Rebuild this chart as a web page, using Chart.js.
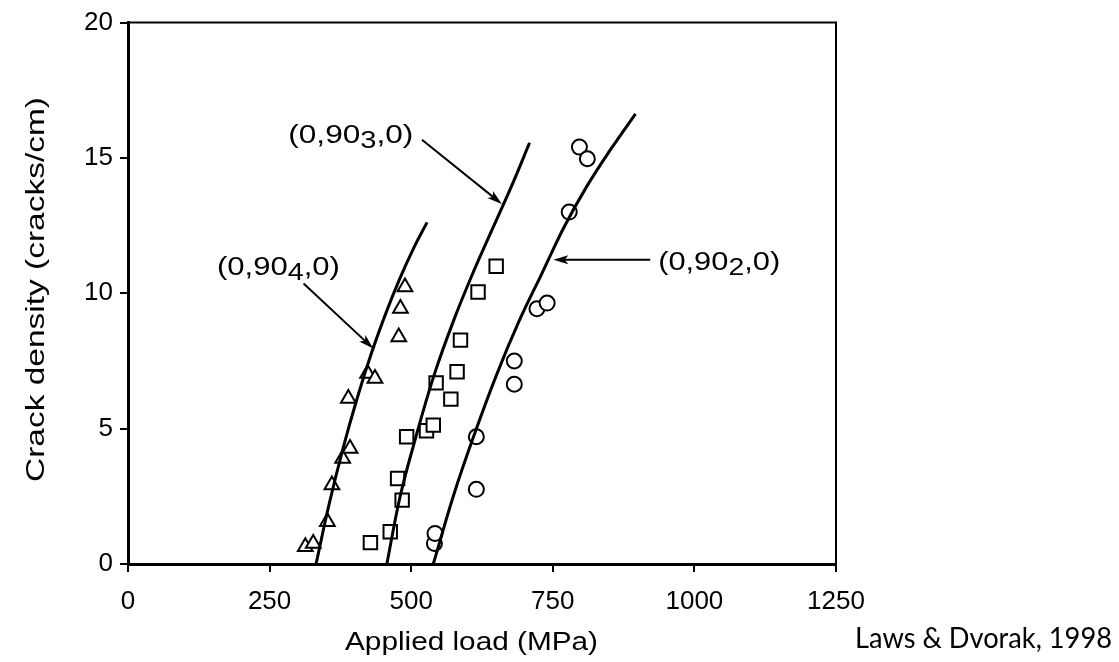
<!DOCTYPE html>
<html>
<head>
<meta charset="utf-8">
<script src="https://cdn.jsdelivr.net/npm/chart.js@4/dist/chart.umd.min.js"></script>
<style>
  html, body { margin: 0; padding: 0; background: #fff; }
  #wrap { width: 1119px; height: 662px; }
</style>
</head>
<body>
<div id="wrap"><canvas id="crackChart"></canvas></div>
<script>
// tick labels
const loadTicks = [0, 250, 500, 750, 1000, 1250];
const densityTicks = [0, 5, 10, 15, 20];

// measured points, (0,90_4,0) triangles
const triLoad = [313, 327, 352, 360, 379, 392, 389, 423, 436, 478, 481, 489];
const triDensity = [0.64, 0.76, 1.56, 2.92, 3.9, 4.27, 6.11, 7.04, 6.85, 8.39, 9.44, 10.23];

// (0,90_3,0) squares
const sqLoad = [428, 463, 484, 476, 492, 527, 539, 544, 570, 581, 587, 618, 650];
const sqDensity = [0.79, 1.19, 2.36, 3.16, 4.7, 4.92, 5.13, 6.69, 6.09, 7.1, 8.27, 10.05, 11.0];

// (0,90_2,0) circles
const circLoad = [541, 542, 615, 615, 682, 682, 722, 740, 779, 797, 811];
const circDensity = [0.76, 1.13, 2.76, 4.7, 6.64, 7.5, 9.43, 9.64, 13.0, 15.4, 14.97];

// predicted curves
const fit4Load = [332, 355, 380, 405, 430, 455, 480, 505, 528];
const fit4Density = [0, 2.2, 4.3, 6.15, 7.8, 9.25, 10.55, 11.7, 12.62];
const fit3Load = [457, 480, 505, 540, 575, 610, 645, 680, 709];
const fit3Density = [0, 2.45, 4.45, 6.95, 9.0, 10.8, 12.45, 14.1, 15.56];
const fit2Load = [539, 575, 610, 650, 690, 730, 770, 810, 850, 896];
const fit2Density = [0, 2.55, 4.7, 6.95, 8.95, 10.7, 12.45, 13.95, 15.25, 16.63];

function pts(xs, ys) {
    return xs.map((x, i) => ({ x: x, y: ys[i] }));
}

const notes = [
    { pre: "(0,90", sub: "3", post: ",0)", load: 283, density: 15.54, width: 125,
      from: [519, 15.67], to: [660, 13.3] },
    { pre: "(0,90", sub: "4", post: ",0)", load: 157, density: 10.66, width: 123,
      from: [310, 10.36], to: [433, 7.96] },
    { pre: "(0,90", sub: "2", post: ",0)", load: 936, density: 10.85, width: 122,
      from: [922, 11.24], to: [751, 11.24] }
];

const FONT = '"Liberation Sans", Arial, Helvetica, sans-serif';

function drawArrow(ctx, x1, y1, x2, y2) {
    const a = Math.atan2(y2 - y1, x2 - x1);
    const head = 15, half = 4.5;
    ctx.beginPath();
    ctx.moveTo(x1, y1);
    ctx.lineTo(x2 - head * 0.7 * Math.cos(a), y2 - head * 0.7 * Math.sin(a));
    ctx.stroke();
    ctx.beginPath();
    ctx.moveTo(x2, y2);
    ctx.lineTo(x2 - head * Math.cos(a) + half * Math.sin(a), y2 - head * Math.sin(a) - half * Math.cos(a));
    ctx.lineTo(x2 - head * 0.75 * Math.cos(a), y2 - head * 0.75 * Math.sin(a));
    ctx.lineTo(x2 - head * Math.cos(a) - half * Math.sin(a), y2 - head * Math.sin(a) + half * Math.cos(a));
    ctx.closePath();
    ctx.fill();
}

// stretched text so the widths follow the scanned figure
function wideText(ctx, text, font, x, y, width, angle) {
    ctx.font = font;
    const k = width / ctx.measureText(text).width;
    ctx.save();
    ctx.translate(x, y);
    if (angle) ctx.rotate(angle);
    ctx.scale(k, 1);
    ctx.textAlign = "left";
    ctx.textBaseline = "alphabetic";
    ctx.fillText(text, 0, 0);
    ctx.restore();
}

const extras = {
    id: "extras",
    afterDatasetsDraw(chart) {
        const ctx = chart.ctx;
        const xs = chart.scales.x, ys = chart.scales.y;
        const area = chart.chartArea;
        ctx.save();
        ctx.strokeStyle = "#000";
        ctx.fillStyle = "#000";

        // top and right side of the frame
        ctx.lineWidth = 2;
        ctx.beginPath();
        ctx.moveTo(area.left, area.top);
        ctx.lineTo(area.right, area.top);
        ctx.lineTo(area.right, area.bottom);
        ctx.stroke();

        // arrows
        ctx.lineWidth = 2;
        notes.forEach(n => {
            drawArrow(ctx,
                xs.getPixelForValue(n.from[0]), ys.getPixelForValue(n.from[1]),
                xs.getPixelForValue(n.to[0]), ys.getPixelForValue(n.to[1]));
        });

        // labels with subscripts
        notes.forEach(n => {
            const px = xs.getPixelForValue(n.load);
            const py = ys.getPixelForValue(n.density);
            ctx.font = "25px " + FONT;
            const w1 = ctx.measureText(n.pre).width;
            const w3 = ctx.measureText(n.post).width;
            ctx.font = "23px " + FONT;
            const w2 = ctx.measureText(n.sub).width;
            const k = n.width / (w1 + w2 + w3);
            ctx.save();
            ctx.translate(px, py);
            ctx.scale(k, 1);
            ctx.textAlign = "left";
            ctx.textBaseline = "alphabetic";
            ctx.font = "25px " + FONT;
            ctx.fillText(n.pre, 0, 0);
            ctx.fillText(n.post, w1 + w2, 0);
            ctx.font = "23px " + FONT;
            ctx.fillText(n.sub, w1, 5);
            ctx.restore();
        });

        // axis titles
        const midX = (area.left + area.right) / 2;
        wideText(ctx, "Applied load (MPa)", "26px " + FONT, midX - 137, 650, 253, 0);
        wideText(ctx, "Crack density (cracks/cm)", "26px " + FONT, 44, 482, 385, -Math.PI / 2);

        // source note
        wideText(ctx, "Laws & Dvorak, 1998", '28px Lato, "Open Sans", sans-serif', 855, 648, 257, 0);

        ctx.restore();
    }
};

const markerStyle = {
    showLine: false,
    pointBackgroundColor: "#fff",
    pointBorderColor: "#000",
    pointBorderWidth: 2
};

const curveStyle = {
    showLine: true,
    borderColor: "#000",
    borderWidth: 3,
    pointRadius: 0,
    tension: 0.4,
    fill: false
};

new Chart(document.getElementById("crackChart"), {
    type: "scatter",
    data: {
        datasets: [
            Object.assign({ label: "fit (0,90_4,0)", data: pts(fit4Load, fit4Density) }, curveStyle),
            Object.assign({ label: "fit (0,90_3,0)", data: pts(fit3Load, fit3Density) }, curveStyle),
            Object.assign({ label: "fit (0,90_2,0)", data: pts(fit2Load, fit2Density) }, curveStyle),
            Object.assign({ label: "(0,90_4,0)", data: pts(triLoad, triDensity), pointStyle: "triangle", pointRadius: 8.5 }, markerStyle),
            Object.assign({ label: "(0,90_3,0)", data: pts(sqLoad, sqDensity), pointStyle: "rect", pointRadius: 9.5 }, markerStyle),
            Object.assign({ label: "(0,90_2,0)", data: pts(circLoad, circDensity), pointStyle: "circle", pointRadius: 7.5 }, markerStyle)
        ]
    },
    options: {
        responsive: true,
        maintainAspectRatio: false,
        animation: false,
        layout: { padding: { left: 0, right: 283, top: 22, bottom: 0 } },
        plugins: {
            legend: { display: false },
            tooltip: { enabled: false }
        },
        scales: {
            x: {
                type: "linear",
                min: 0,
                max: 1250,
                afterBuildTicks: s => { s.ticks = loadTicks.map(v => ({ value: v })); },
                afterFit: s => { s.height = 98; },
                grid: { drawOnChartArea: false, color: "#000", tickColor: "#000", tickLength: 8, lineWidth: 2 },
                border: { display: true, color: "#000", width: 3 },
                ticks: { color: "#000", font: { family: FONT, size: 26 }, padding: 14, maxRotation: 0,
                         callback: v => String(v) },
                title: { display: false }
            },
            y: {
                type: "linear",
                min: 0,
                max: 20,
                afterBuildTicks: s => { s.ticks = densityTicks.map(v => ({ value: v })); },
                afterFit: s => { s.width = 128; },
                grid: { drawOnChartArea: false, color: "#000", tickColor: "#000", tickLength: 8, lineWidth: 2 },
                border: { display: true, color: "#000", width: 3 },
                ticks: { color: "#000", font: { family: FONT, size: 26 }, padding: 7,
                         callback: v => String(v) },
                title: { display: false }
            }
        }
    },
    plugins: [extras]
});
</script>
</body>
</html>
